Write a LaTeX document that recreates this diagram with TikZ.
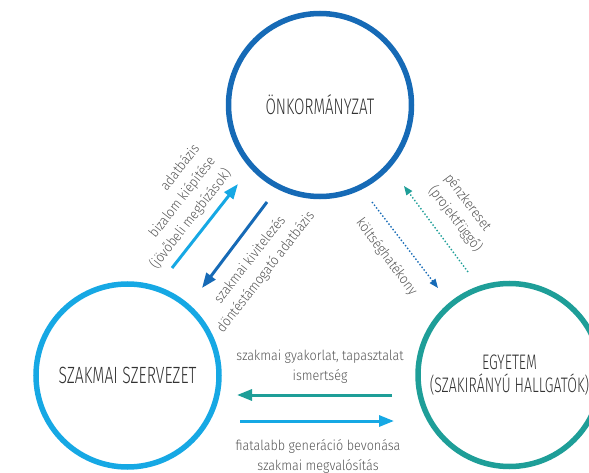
\documentclass[tikz,border=0pt]{standalone}
\usepackage{fontspec}
\setmainfont{Fira Sans}[UprightFont={* Light}]
\newfontfamily\capsfont{Fira Sans}[UprightFont={* Light}, FakeStretch=0.67]
\newfontfamily\labfont{Fira Sans}[UprightFont={* Light}, FakeStretch=0.9]
\usetikzlibrary{arrows.meta}
\definecolor{dblue}{RGB}{22,106,182}
\definecolor{lblue}{RGB}{22,168,228}
\definecolor{teal2}{RGB}{30,158,152}
\definecolor{txtc}{RGB}{50,50,50}
\definecolor{labc}{RGB}{85,85,85}
\tikzset{
  ring/.style={circle, draw, line width=5.5pt, minimum size=183pt, inner sep=0pt,
    align=center, text=txtc, font=\capsfont\fontsize{22.5}{23}\selectfont},
  lab/.style={text=labc, font=\labfont\fontsize{14}{20}\selectfont, inner sep=0pt},
  solidarr/.style={line width=3pt, -{Triangle[length=15pt,width=11pt]}},
  dotarr/.style={line width=1.4pt, dotted, -{Triangle[length=9pt,width=7pt]}}
}
\begin{document}
\begin{tikzpicture}[x=1pt,y=-1pt]
\useasboundingbox (0,0) rectangle (589,473);
\clip (0,0) rectangle (589,473);
% circles
\node[ring, draw=dblue] (onk) at (320,105) {ÖNKORMÁNYZAT};
\node[ring, draw=lblue, font=\capsfont\fontsize{23.5}{23}\selectfont] (szak) at (127.5,375.5) {SZAKMAI SZERVEZET};
\node[ring, draw=teal2, font=\capsfont\fontsize{21}{22.5}\selectfont] (egy) at (509.5,375) {EGYETEM\\(SZAKIRÁNYÚ HALLGATÓK)};
% arrow end points
\coordinate (a1s) at (172,268); \coordinate (a1e) at (238,184);
\coordinate (a2s) at (267,202); \coordinate (a2e) at (202,288);
\coordinate (a3s) at (468,272); \coordinate (a3e) at (404,186);
\coordinate (a4s) at (372,202); \coordinate (a4e) at (438,288);
\coordinate (a5s) at (392,395); \coordinate (a5e) at (237,395);
\coordinate (a6s) at (240,421); \coordinate (a6e) at (394,421);
% arrows
\draw[solidarr, lblue] (a1s) -- (a1e);
\draw[solidarr, dblue] (a2s) -- (a2e);
\draw[dotarr, teal2] (a3s) -- (a3e);
\draw[dotarr, dblue] (a4s) -- (a4e);
\draw[solidarr, teal2] (a5s) -- (a5e);
\draw[solidarr, lblue] (a6s) -- (a6e);
% labels
\node[lab, rotate=52, align=right] (l1) at (175,207) {adatbázis\\bizalom kiépítése\\(jövőbeli megbízások)};
\node[lab, rotate=52, align=center] (l2) at (258,266) {szakmai kivitelezés\\döntéstámogató adatbázis};
\node[lab, rotate=-53, align=left] (l3) at (463,213) {pénzkereset\\(projektfüggő)};
\node[lab, rotate=-53] (l4) at (386.5,257) {költséghatékony};
\node[lab, align=center] (l5) at (320,366.5) {szakmai gyakorlat, tapasztalat\\ismertség};
\node[lab, align=center] (l6) at (318,456) {fiatalabb generáció bevonása\\szakmai megvalósítás};
\end{tikzpicture}
\end{document}
